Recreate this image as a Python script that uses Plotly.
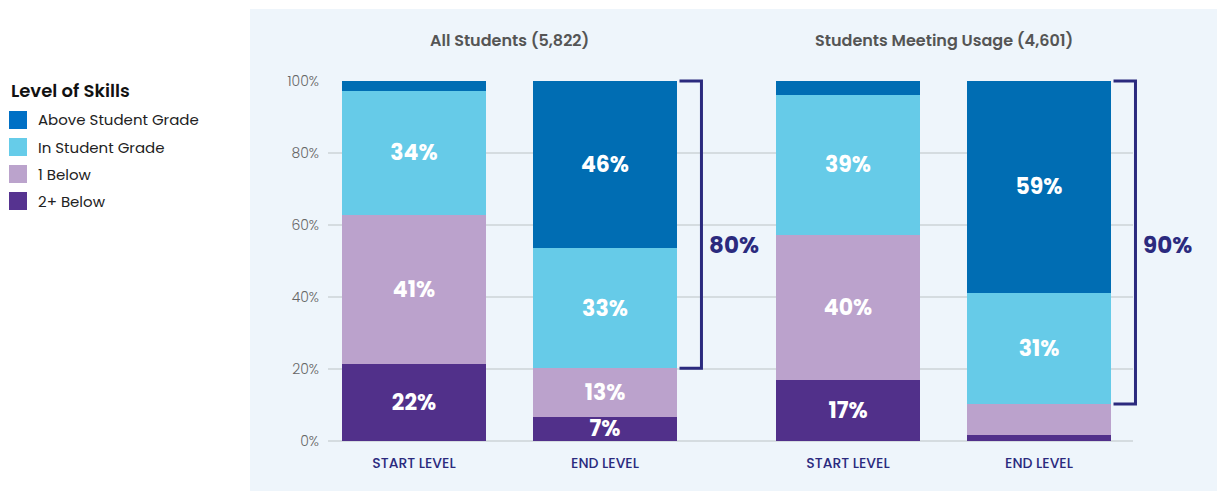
import plotly.graph_objects as go

# ---------------- data ----------------
GROUPS = ["All Students (5,822)", "Students Meeting Usage (4,601)"]
LEVELS = ["START LEVEL", "END LEVEL"]
SERIES = ["2+ Below", "1 Below", "In Student Grade", "Above Student Grade"]
COLORS = ["#51308A", "#BBA2CC", "#66CBE8", "#006DB3"]
LEGEND_COLORS = ["#563390", "#BBA3CC", "#66CCE9", "#0070C5"]

# order of bars: All-Start, All-End, Usage-Start, Usage-End
TWO_PLUS_BELOW = [21.5, 6.8, 16.9, 1.8]
ONE_BELOW = [41.4, 13.4, 40.4, 8.5]
IN_GRADE = [34.4, 33.4, 38.9, 30.9]
ABOVE_GRADE = [2.7, 46.4, 3.8, 58.8]
VALUES = [TWO_PLUS_BELOW, ONE_BELOW, IN_GRADE, ABOVE_GRADE]

LABELS_TWO_PLUS = ["22%", "7%", "17%", ""]
LABELS_ONE_BELOW = ["41%", "13%", "40%", ""]
LABELS_IN_GRADE = ["34%", "33%", "39%", "31%"]
LABELS_ABOVE = ["", "46%", "", "59%"]
LABELS = [LABELS_TWO_PLUS, LABELS_ONE_BELOW, LABELS_IN_GRADE, LABELS_ABOVE]

BRACKET_LABELS = ["80%", "90%"]
Y_TICKS = [0, 20, 40, 60, 80, 100]
Y_TICK_LABELS = ["0%", "20%", "40%", "60%", "80%", "100%"]

# ---------------- layout constants ----------------
W, H = 1217, 491
PL, PR, PT, PB = 328, 1133, 81, 441   # plot area in page pixels
ML, MT, MR, MB = PL, PT, W - PR, H - PB
PW, PH = PR - PL, PB - PT
GROUP_STEP = 2.272
BAR_W = 0.754
X_RANGE = [-0.45, 3.764]
NAVY = "#2B2A7E"
FONT = "Poppins, Inter, sans-serif"

def px_x(px):
    return (px - PL) / PW

def px_y(py):
    return (PB - py) / PH

def dx_paper(x):
    return (x - X_RANGE[0]) / (X_RANGE[1] - X_RANGE[0])

xpos = [g * GROUP_STEP + b for g in range(len(GROUPS)) for b in range(len(LEVELS))]
xtext = [lvl for _ in GROUPS for lvl in LEVELS]

fig = go.Figure()
for name, vals, color, labels in zip(SERIES, VALUES, COLORS, LABELS):
    fig.add_trace(go.Bar(
        x=xpos, y=vals, name=name, width=BAR_W,
        marker=dict(color=color, line=dict(width=0)),
        text=labels, textposition="inside", insidetextanchor="middle",
        textangle=0, constraintext="none",
        textfont=dict(family=FONT, size=22, color="white", weight=700),
        hoverinfo="skip", showlegend=False,
    ))

shapes = []
annotations = []

# background panel
shapes.append(dict(type="rect", xref="paper", yref="paper",
                   x0=px_x(250), x1=px_x(W + 10), y0=px_y(H + 10), y1=px_y(9),
                   fillcolor="#EEF5FB", line=dict(width=0), layer="below"))

# group titles
for g, title in enumerate(GROUPS):
    cx = g * GROUP_STEP + 0.5
    annotations.append(dict(x=cx, y=px_y(41), xref="x", yref="paper", text=title,
                            showarrow=False, xanchor="center", yanchor="middle",
                            font=dict(family=FONT, size=16, color="#555555", weight=600)))

# brackets on END LEVEL bars
for g, lab in enumerate(BRACKET_LABELS):
    idx = g * len(LEVELS) + 1
    xc = xpos[idx]
    bottom = TWO_PLUS_BELOW[idx] + ONE_BELOW[idx]
    top = bottom + IN_GRADE[idx] + ABOVE_GRADE[idx]
    x0, x1 = dx_paper(xc + 0.39), dx_paper(xc + 0.505)
    y0, y1 = top / 100.0, bottom / 100.0
    shapes.append(dict(type="path", xref="paper", yref="paper",
                       path=f"M{x0},{y0} L{x1},{y0} L{x1},{y1} L{x0},{y1}",
                       line=dict(color=NAVY, width=3)))
    annotations.append(dict(x=dx_paper(xc + 0.535), y=0.545, xref="paper", yref="paper",
                            text=lab, showarrow=False, xanchor="left", yanchor="middle",
                            font=dict(family=FONT, size=23, color=NAVY, weight=700)))

# custom legend
annotations.append(dict(x=px_x(9), y=px_y(90), xref="paper", yref="paper",
                        text="Level of Skills", showarrow=False, xanchor="left", yanchor="middle",
                        font=dict(family=FONT, size=18, color="#111111", weight=600)))
legend_order = list(range(len(SERIES)))[::-1]
for i, s in enumerate(legend_order):
    cy = 120 + 27 * i
    shapes.append(dict(type="rect", xref="paper", yref="paper",
                       x0=px_x(9), x1=px_x(27), y0=px_y(cy + 9), y1=px_y(cy - 9),
                       fillcolor=LEGEND_COLORS[s], line=dict(width=0)))
    annotations.append(dict(x=px_x(36), y=px_y(cy), xref="paper", yref="paper",
                            text=SERIES[s], showarrow=False, xanchor="left", yanchor="middle",
                            font=dict(family=FONT, size=15, color="#222222")))

fig.update_layout(
    width=W, height=H,
    margin=dict(l=ML, r=MR, t=MT, b=MB, pad=0),
    barmode="stack", bargap=0,
    paper_bgcolor="white", plot_bgcolor="rgba(0,0,0,0)",
    shapes=shapes, annotations=annotations,
    font=dict(family=FONT),
    showlegend=False,
)
fig.update_xaxes(range=X_RANGE, tickvals=xpos, ticktext=xtext, showgrid=False,
                 zeroline=False, showline=False, ticks="", ticklabelstandoff=12,
                 tickfont=dict(family=FONT, size=14, color=NAVY, weight=500))
fig.update_yaxes(range=[0, 100], tickvals=Y_TICKS, ticktext=Y_TICK_LABELS, showgrid=True,
                 gridcolor="#D5DCE0", gridwidth=1.5, zeroline=True, zerolinecolor="#D5DCE0",
                 zerolinewidth=1.5, showline=False, ticks="", ticklabelstandoff=8,
                 tickfont=dict(family=FONT, size=14, color="#666666", weight=300))

fig.write_html("out.html", config={"displayModeBar": False, "staticPlot": True},
               post_script="document.body.style.margin='0';document.body.style.overflow='hidden';")
